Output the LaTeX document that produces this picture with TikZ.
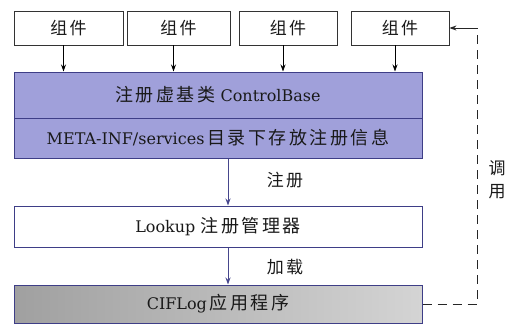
\documentclass[tikz,border=0pt]{standalone}
\usepackage{fontspec}
\setmainfont{DejaVu Serif}
\newfontfamily\cjk[LetterSpace=14]{Noto Sans CJK SC}
\newcommand{\cj}[1]{{\cjk\fontsize{18}{20}\selectfont #1}}
\usetikzlibrary{arrows.meta}
\definecolor{boxblue}{RGB}{160,160,218}
\definecolor{edgeblue}{RGB}{62,62,135}
\definecolor{arrblue}{RGB}{70,70,140}
\definecolor{txt}{RGB}{25,25,25}
\tikzset{
  comp/.style={draw=black!80, line width=0.8pt, fill=white, minimum width=#1, minimum height=34pt, inner sep=0pt, font=\cjk\fontsize{17}{19}\selectfont, text=txt},
  bar/.style={draw=edgeblue, line width=1pt, minimum width=408pt, inner sep=0pt, text=txt, font=\fontsize{16}{19}\selectfont},
  tip/.style={-{Stealth[length=7pt,width=5pt]}},
  lbl/.style={font=\cjk\fontsize{17}{19}\selectfont, text=txt, inner sep=0pt},
  callline/.style={dashed, dash pattern=on 9pt off 6pt, line width=1pt, draw=black!85}
}
\begin{document}
\begin{tikzpicture}[x=1pt,y=-1pt]
\useasboundingbox (0,0) rectangle (511,324);
% top components
\node[comp=109pt] (c1) at (68.5,28) {组件};
\node[comp=103pt] (c2) at (178.5,28) {组件};
\node[comp=98pt] (c3) at (288,28) {组件};
\node[comp=98pt] (c4) at (400,28) {组件};
% blue block
\node[bar, fill=boxblue, minimum height=46pt] (bt) at (218,95) {\cj{注册虚基类} ControlBase};
\node[bar, fill=boxblue, minimum height=40pt] (bb) at (218,138) {META-INF/services\,\cj{目录下存放注册信息}};
% lookup
\node[bar, fill=white, minimum height=41pt] (lk) at (218,226.5) {Lookup \cj{注册管理器}};
% CIFLog
\node[bar, left color={rgb,255:red,160;green,160;blue,160}, right color={rgb,255:red,212;green,212;blue,212}, minimum height=38pt] (cf) at (218,304) {CIFLog\,\cj{应用程序}};
% arrows from components
\foreach \c in {c1,c2,c3,c4}{
  \draw[tip, line width=0.8pt, black] ([xshift=-5pt]\c.south) -- ([xshift=-5pt]\c.south |- bt.north);
}
% register / load arrows
\draw[tip, line width=1pt, arrblue] ([xshift=10pt]bb.south) -- ([xshift=10pt]lk.north);
\draw[tip, line width=1pt, arrblue] ([xshift=10pt]lk.south) -- ([xshift=10pt]cf.north);
\node[lbl] (l1) at (285,180) {注册};
\node[lbl] (l2) at (285,267) {加载};
% call line
\coordinate (corner) at (477,28);
\draw[callline] (cf.east) -| (corner);
\draw[tip, line width=1pt, black!85] (corner) -- (c4.east);
\node[lbl, align=center] (l3) at (497,180) {调\\[4pt]用};
\end{tikzpicture}
\end{document}
